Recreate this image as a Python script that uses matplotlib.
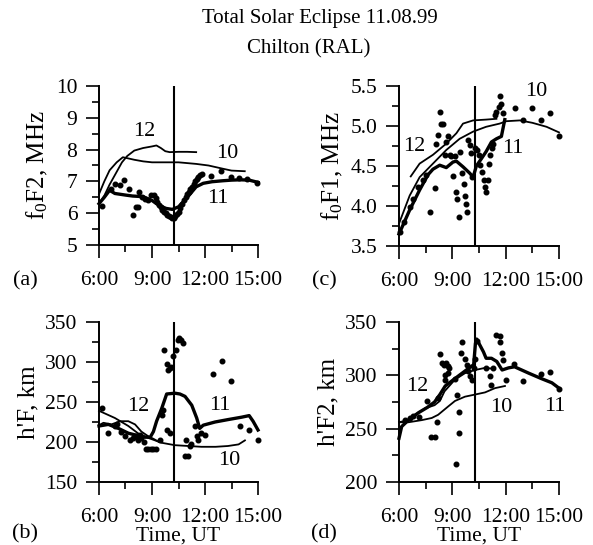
import matplotlib
matplotlib.use("Agg")
import matplotlib.pyplot as plt
from matplotlib.ticker import MultipleLocator, FixedLocator

plt.rcParams['font.family'] = ['Liberation Serif', 'DejaVu Serif']
plt.rcParams['mathtext.fontset'] = 'custom'
plt.rcParams['mathtext.rm'] = 'Liberation Serif'
plt.rcParams['mathtext.it'] = 'Liberation Serif:italic'

title1 = "Total Solar Eclipse 11.08.99"
title2 = "Chilton (RAL)"
eclipse_t = 10.25
xtick_pos = [6, 9, 12, 15]
xtick_labels = ["6:00", "9:00", "12:00", "15:00"]

# ---------- (a) f0F2 ----------
a_t10 = [6.0, 6.3, 6.6, 7.0, 7.35, 7.6, 8.0, 8.5, 9.0, 10.0, 10.5, 11.5, 12.2, 13.0, 13.5, 14.25]
a_v10 = [6.6, 7.0, 7.35, 7.6, 7.76, 7.73, 7.68, 7.63, 7.6, 7.6, 7.6, 7.55, 7.5, 7.4, 7.34, 7.32]
a_t12 = [6.0, 6.3, 6.6, 7.0, 7.3, 7.6, 8.0, 8.5, 9.0, 9.25, 9.5, 9.75, 10.0, 10.5, 11.0, 11.5]
a_v12 = [6.3, 6.55, 6.9, 7.3, 7.6, 7.8, 7.97, 8.05, 8.1, 8.13, 8.05, 7.95, 7.92, 7.93, 7.93, 7.92]
a_t11 = [6.0, 6.3, 6.6, 6.9, 7.5, 7.9, 8.5, 9.0, 9.25, 9.5, 9.8, 10.15, 10.5, 11.0, 11.5, 11.9, 12.4, 13.0, 13.5, 14.0, 14.5, 15.0]
a_v11 = [6.3, 6.5, 6.72, 6.62, 6.57, 6.54, 6.52, 6.4, 6.3, 6.22, 6.15, 6.12, 6.2, 6.5, 6.83, 6.94, 6.99, 7.02, 7.04, 7.05, 7.04, 6.97]
a_dot_t = [6.19, 6.66, 6.88, 7.2, 7.44, 7.69, 7.9, 8.1, 8.2, 8.27, 8.45, 8.6, 8.75, 8.95, 9.13, 9.2, 9.3, 9.4, 9.5, 9.58, 9.68, 9.77,
           9.86, 9.95, 10.05, 10.13, 10.22, 10.3, 10.4, 10.5, 10.6, 10.7, 10.8, 10.9, 11.0, 11.07, 11.15, 11.25, 11.35, 11.44,
           11.52, 11.6, 11.72, 11.83, 12.35, 12.9, 13.45, 13.9, 14.35, 14.95]
a_dot_v = [6.23, 6.75, 6.92, 6.89, 7.04, 6.75, 5.94, 6.2, 6.2, 6.68, 6.52, 6.45, 6.4, 6.57, 6.57, 6.47, 6.35, 6.25, 6.18, 6.1, 6.05, 6.0,
           5.95, 5.9, 5.88, 5.84, 5.86, 5.9, 5.98, 6.05, 6.15, 6.3, 6.4, 6.52, 6.6, 6.68, 6.75, 6.83, 6.92, 7.0,
           7.08, 7.15, 7.2, 7.23, 7.17, 7.34, 7.13, 7.1, 7.08, 6.96]

# ---------- (c) f0F1 ----------
c_t12 = [6.66, 7.16, 7.91, 8.66, 9.23, 9.6, 10.17, 10.9, 11.48]
c_v12 = [4.37, 4.53, 4.64, 4.78, 4.91, 5.03, 5.07, 5.08, 5.09]
c_t10 = [6.0, 6.6, 7.16, 7.91, 8.66, 9.41, 10.17, 10.9, 11.66, 12.04, 12.8, 13.5, 14.3, 15.0]
c_v10 = [3.78, 4.13, 4.36, 4.53, 4.7, 4.84, 4.93, 4.99, 5.03, 5.06, 5.07, 5.04, 4.99, 4.92]
c_t11 = [6.0, 6.6, 7.16, 7.63, 7.91, 8.29, 8.66, 9.04, 9.23, 9.6, 9.98, 10.17, 10.35, 10.63, 10.9, 11.2, 11.48, 11.76, 11.95]
c_v11 = [3.65, 3.95, 4.2, 4.39, 4.46, 4.51, 4.48, 4.55, 4.56, 4.49, 4.41, 4.36, 4.5, 4.59, 4.68, 4.8, 4.84, 4.87, 5.08]
c_dot_t = [6.04, 6.3, 6.6, 6.79, 7.07, 7.35, 7.54, 7.76, 8.0, 8.1, 8.2, 8.29, 8.38, 8.48, 8.57, 8.66, 8.76, 8.85, 8.94, 9.04,
           9.13, 9.19, 9.26, 9.38, 9.45, 9.56, 9.64, 9.7, 9.75, 9.83, 9.88, 9.98, 10.07, 10.13, 10.26, 10.39, 10.5, 10.58,
           10.69, 10.76, 10.84, 10.9, 11.0, 11.06, 11.13, 11.23, 11.3, 11.38, 11.48, 11.6, 11.66, 11.76, 11.85, 12.5,
           13.0, 13.5, 14.0, 14.5, 15.0]
c_dot_v = [3.68, 3.8, 3.99, 4.09, 4.24, 4.32, 4.39, 3.93, 4.23, 4.78, 4.89, 5.18, 5.03, 5.02, 4.64, 4.8, 4.87, 4.64, 4.62, 4.37,
           4.62, 4.18, 4.09, 3.86, 4.68, 4.41, 4.28, 4.13, 4.03, 3.93, 4.82, 4.76, 4.66, 4.36, 4.72, 4.7, 4.64, 4.51,
           4.43, 4.32, 4.24, 4.18, 4.32, 4.53, 4.64, 4.72, 4.78, 5.14, 5.18, 5.24, 5.37, 5.27, 5.16, 5.22,
           5.07, 5.22, 5.07, 5.16, 4.87]

# ---------- (b) h'F ----------
b_t10 = [6.0, 6.9, 7.66, 8.2, 8.8, 9.55, 10.3, 11.06, 11.8, 12.6, 13.3, 13.9, 14.26]
b_v10 = [239, 230, 220, 211, 205, 199, 196, 195, 194, 194, 195, 197, 202]
b_t12 = [6.0, 6.25, 6.7, 7.2, 7.66, 8.04, 8.4, 8.8, 9.08, 9.4]
b_v12 = [221, 224, 222, 226, 226, 222, 213, 207, 204, 200]
b_t11 = [6.0, 6.53, 7.1, 7.66, 8.2, 8.6, 8.9, 9.08, 9.26, 9.55, 9.83, 10.3, 10.58, 10.87, 11.25, 11.53, 11.7, 11.9,
         12.57, 13.3, 14.07, 14.5, 14.72, 15.0]
b_v11 = [220, 222, 217, 211, 208, 206, 206, 213, 226, 242, 260, 261, 260, 257, 246, 230, 217, 221,
         225, 228, 231, 233, 226, 215]
b_dot_t = [6.19, 6.49, 6.9, 7.0, 7.25, 7.47, 7.75, 7.94, 8.07, 8.19, 8.32, 8.4, 8.56, 8.64, 8.8, 8.94, 9.08, 9.23, 9.45,
           9.55, 9.6, 9.68, 9.83, 9.92, 10.0, 10.1, 9.83, 10.0, 10.2, 10.36, 10.45, 10.55, 10.64, 10.73, 10.87, 11.05,
           10.9, 11.15, 11.2, 11.43, 11.53, 11.6, 11.8, 12.0, 12.47, 12.98, 13.47, 14.0, 14.5, 15.0]
b_dot_v = [242, 211, 220, 222, 213, 207, 202, 205, 208, 203, 209, 205, 200, 191, 191, 191, 191, 191, 203,
           234, 240, 315, 297, 290, 292, 294, 215, 211, 307, 315, 328, 330, 328, 324, 182, 182,
           202, 195, 197, 220, 207, 202, 211, 209, 285, 301, 276, 220, 215, 202]

# ---------- (d) h'F2 ----------
d_t10 = [6.0, 6.53, 7.28, 7.84, 8.2, 8.78, 9.15, 9.71, 10.28, 10.84, 11.4, 11.96]
d_v10 = [256, 256, 258, 260, 263, 271, 276, 280, 282, 284, 288, 290]
d_t12 = [6.0, 6.5, 6.9, 7.46, 8.0, 8.3, 8.56, 9.15, 9.71, 10.28, 10.84, 11.4]
d_v12 = [256, 258, 263, 269, 272, 276, 285, 296, 302, 305, 307, 306]
d_t11 = [6.0, 6.15, 6.53, 7.1, 7.6, 8.0, 8.3, 8.6, 9.15, 9.71, 10.2, 10.3, 10.37, 10.75, 10.9, 11.2, 11.5, 11.8,
         12.16, 12.5, 13.3, 14.0, 14.6, 15.0]
d_v11 = [241, 252, 258, 265, 270, 275, 282, 290, 297, 304, 310, 330, 334, 322, 316, 316, 313, 305,
         307, 308, 302, 297, 293, 288]
d_dot_t = [6.34, 6.62, 6.8, 7.1, 7.56, 7.8, 8.0, 8.15, 8.2, 8.3, 8.4, 8.55, 8.66, 8.75, 8.8, 8.58, 8.58, 8.73, 9.13,
           9.26, 9.35, 9.4, 9.2, 9.5, 9.57, 9.7, 9.8, 9.9, 10.0, 10.1, 10.2, 10.28, 10.4, 10.9, 11.1, 11.2, 11.28,
           11.47, 11.66, 11.7, 11.77, 11.83, 12.0, 12.46, 13.0, 14.0, 14.5, 15.0]
d_dot_v = [258, 260, 262, 261, 276, 242, 242, 256, 279, 320, 312, 310, 312, 309, 307, 300, 296, 302, 297,
           282, 266, 246, 217, 321, 331, 315, 310, 304, 299, 296, 307, 315, 332, 307, 299, 291, 307,
           338, 337, 331, 321, 314, 296, 311, 295, 301, 303, 287]

fig = plt.figure(figsize=(5.93, 5.45), dpi=100)
W, H = 593, 545

def make_ax(x0, x1, y0, y1):
    return fig.add_axes([x0 / W, 1 - y1 / H, (x1 - x0) / W, (y1 - y0) / H])

def style(ax, ylim, major, minor, ylabel, fmt=None):
    ax.set_xlim(6, 15)
    ax.set_ylim(*ylim)
    for s in ['top', 'right']:
        ax.spines[s].set_visible(False)
    for s in ['left', 'bottom']:
        ax.spines[s].set_linewidth(1.4)
    ax.xaxis.set_major_locator(FixedLocator(xtick_pos))
    ax.set_xticklabels(xtick_labels)
    ax.xaxis.set_minor_locator(FixedLocator([7.5, 10.5, 13.5]))
    ax.yaxis.set_major_locator(MultipleLocator(major))
    ax.yaxis.set_minor_locator(MultipleLocator(minor))
    if fmt:
        ax.yaxis.set_major_formatter(matplotlib.ticker.FormatStrFormatter(fmt))
    ax.tick_params(which='major', direction='out', length=9.5, width=1.2, labelsize=15.5)
    ax.tick_params(which='minor', direction='out', length=5, width=1.2)
    ax.tick_params(axis='x', which='major', pad=9)
    ax.tick_params(axis='y', which='major', pad=6)
    ax.set_ylabel(ylabel, fontsize=18, labelpad=4)
    ax.axvline(eclipse_t, color='black', lw=1.5)

def draw(ax, t10, v10, t11, v11, t12, v12, dt, dv):
    ax.plot(t10, v10, color='black', lw=1.3, clip_on=False)
    ax.plot(t12, v12, color='black', lw=1.3, clip_on=False)
    ax.plot(t11, v11, color='black', lw=2.4, clip_on=False)
    ax.plot(dt, dv, 'o', color='black', ms=3.3, clip_on=False)

lab = dict(fontsize=16, ha='center', va='center')

axa = make_ax(99, 258, 86, 245)
style(axa, (5, 10), 1, 0.5, r"f$_\mathrm{0}$F2, MHz")
draw(axa, a_t10, a_v10, a_t11, a_v11, a_t12, a_v12, a_dot_t, a_dot_v)
axa.text(8.57, 8.56, "12", **lab)
axa.text(13.26, 7.88, "10", **lab)
axa.text(12.7, 6.47, "11", **lab)

axc = make_ax(399, 559, 86, 246)
style(axc, (3.5, 5.5), 0.5, 0.25, r"f$_\mathrm{0}$F1, MHz", fmt='%.1f')
draw(axc, c_t10, c_v10, c_t11, c_v11, c_t12, c_v12, c_dot_t, c_dot_v)
axc.text(6.88, 4.74, "12", **lab)
axc.text(13.7, 5.43, "10", **lab)
axc.text(12.38, 4.72, "11", **lab)

axb = make_ax(99, 258, 322, 482)
style(axb, (150, 350), 50, 25, "h'F, km")
draw(axb, b_t10, b_v10, b_t11, b_v11, b_t12, b_v12, b_dot_t, b_dot_v)
axb.text(8.23, 244, "12", **lab)
axb.text(12.85, 245, "11", **lab)
axb.text(13.4, 177, "10", **lab)
axb.set_xlabel("Time, UT", fontsize=15.5, labelpad=0)

axd = make_ax(399, 559, 322, 482)
style(axd, (200, 350), 50, 25, "h'F2, km")
draw(axd, d_t10, d_v10, d_t11, d_v11, d_t12, d_v12, d_dot_t, d_dot_v)
axd.text(7.0, 290, "12", **lab)
axd.text(11.74, 270, "10", **lab)
axd.text(14.78, 271, "11", **lab)
axd.set_xlabel("Time, UT", fontsize=15.5, labelpad=0)

fig.text(320 / W, 1 - 19 / H, title1, fontsize=15, ha='center', va='center')
fig.text(309 / W, 1 - 49 / H, title2, fontsize=15, ha='center', va='center')

for lbl, x, y in [("(a)", 25, 281), ("(c)", 324, 281), ("(b)", 25, 534), ("(d)", 324, 534)]:
    fig.text(x / W, 1 - y / H, lbl, fontsize=16, ha='center', va='center')

fig.savefig("out.png", dpi=100)
